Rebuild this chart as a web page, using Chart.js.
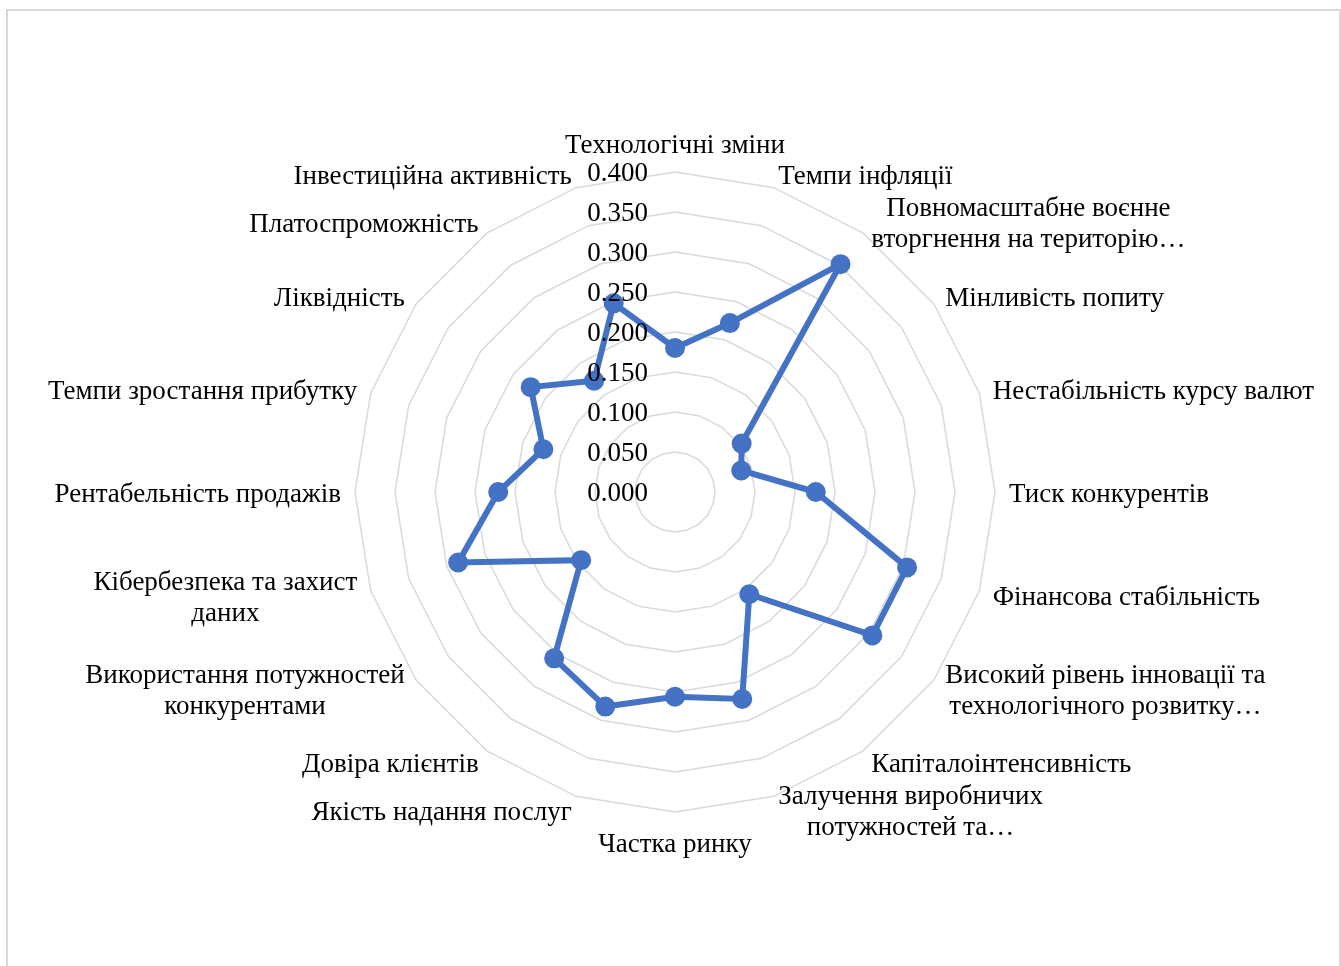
<!DOCTYPE html>
<html>
<head>
<meta charset="utf-8">
<style>
  html, body { margin: 0; padding: 0; background: #ffffff; }
  #wrap { width: 1341px; height: 966px; position: relative; }
  canvas { display: block; }
</style>
<script src="https://cdn.jsdelivr.net/npm/chart.js@4/dist/chart.umd.min.js"></script>
</head>
<body>
<div id="wrap"><canvas id="radar" width="1341" height="966"></canvas></div>
<script>
// Risk / performance factors, clockwise from the top
const categories = [
  'Технологічні зміни',
  'Темпи інфляції',
  ['Повномасштабне воєнне', 'вторгнення на територію…'],
  'Мінливість попиту',
  'Нестабільність курсу валют',
  'Тиск конкурентів',
  'Фінансова стабільність',
  ['Високий рівень інновації та', 'технологічного розвитку…'],
  'Капіталоінтенсивність',
  ['Залучення виробничих', 'потужностей та…'],
  'Частка ринку',
  'Якість надання послуг',
  'Довіра клієнтів',
  ['Використання потужностей', 'конкурентами'],
  ['Кібербезпека та захист', 'даних'],
  'Рентабельність продажів',
  'Темпи зростання прибутку',
  'Ліквідність',
  'Платоспроможність',
  'Інвестиційна активність'
];

// Weight of each factor
const weights = [
  0.180, 0.222, 0.352, 0.103, 0.087, 0.176, 0.305, 0.305, 0.158, 0.272,
  0.256, 0.282, 0.257, 0.145, 0.285, 0.221, 0.173, 0.223, 0.172, 0.248
];

// Radial axis ticks
const tickValues = [0, 0.05, 0.10, 0.15, 0.20, 0.25, 0.30, 0.35, 0.40];
const tickLabels = ['0.000', '0.050', '0.100', '0.150', '0.200', '0.250', '0.300', '0.350', '0.400'];

const FONT = '"Liberation Serif", "Times New Roman", serif';
const FONT_SIZE = 27;
const LINE_H = 31;
const TEXT_COLOR = '#000000';
const GRID_COLOR = '#d9d9d9';
const SERIES_COLOR = '#4472c4';

// Light frame around the whole chart
const framePlugin = {
  id: 'frame',
  beforeDraw(chart) {
    const ctx = chart.ctx;
    ctx.save();
    ctx.strokeStyle = GRID_COLOR;
    ctx.lineWidth = 2;
    ctx.strokeRect(7, 10, 1333, 1000);
    ctx.restore();
  }
};

// Value labels to the left of the vertical axis
const tickLabelPlugin = {
  id: 'tickLabels',
  afterDatasetsDraw(chart) {
    const scale = chart.scales.r;
    const ctx = chart.ctx;
    ctx.save();
    ctx.font = FONT_SIZE + 'px ' + FONT;
    ctx.fillStyle = TEXT_COLOR;
    ctx.textAlign = 'right';
    ctx.textBaseline = 'middle';
    tickValues.forEach((v, i) => {
      const y = scale.yCenter - scale.getDistanceFromCenterForValue(v);
      ctx.fillText(tickLabels[i], scale.xCenter - 27, y + 2);
    });
    ctx.restore();
  }
};

// Category labels around the outer ring
const categoryLabelPlugin = {
  id: 'categoryLabels',
  afterDraw(chart) {
    const scale = chart.scales.r;
    const ctx = chart.ctx;
    const n = categories.length;
    ctx.save();
    ctx.font = FONT_SIZE + 'px ' + FONT;
    ctx.fillStyle = TEXT_COLOR;
    ctx.textBaseline = 'middle';
    categories.forEach((label, i) => {
      const lines = Array.isArray(label) ? label : [label];
      const pos = scale.getPointPosition(i, scale.drawingArea + 14);
      const deg = Math.round(i * 360 / n);
      const widths = lines.map(l => ctx.measureText(l).width);
      const w = Math.max(...widths);
      const h = lines.length * LINE_H;
      let top;
      if (deg === 0) top = pos.y - h;
      else if (deg === 180) top = pos.y;
      else top = pos.y - h / 2;
      let blockCenter;
      if (deg === 0 || deg === 180) blockCenter = pos.x;
      else if (deg < 180) blockCenter = pos.x + w / 2;
      else blockCenter = pos.x - w / 2;
      ctx.textAlign = 'center';
      lines.forEach((l, k) => {
        ctx.fillText(l, blockCenter, top + LINE_H * (k + 0.5) + 3);
      });
    });
    ctx.restore();
  }
};

new Chart(document.getElementById('radar'), {
  type: 'radar',
  data: {
    labels: categories,
    datasets: [{
      data: weights,
      borderColor: SERIES_COLOR,
      backgroundColor: SERIES_COLOR,
      borderWidth: 6,
      fill: false,
      pointRadius: 9,
      pointBorderWidth: 2,
      pointBackgroundColor: SERIES_COLOR,
      pointBorderColor: SERIES_COLOR,
      pointHoverRadius: 9
    }]
  },
  options: {
    responsive: false,
    animation: false,
    devicePixelRatio: 1,
    layout: { padding: { left: 355, right: 346, top: 172, bottom: 154 } },
    plugins: {
      legend: { display: false },
      tooltip: { enabled: false }
    },
    elements: { line: { tension: 0 } },
    scales: {
      r: {
        min: 0,
        max: 0.4,
        beginAtZero: true,
        angleLines: { display: false },
        grid: { circular: false, color: GRID_COLOR, lineWidth: 1.5 },
        ticks: { display: false, stepSize: 0.05 },
        pointLabels: { display: false }
      }
    }
  },
  plugins: [framePlugin, tickLabelPlugin, categoryLabelPlugin]
});
</script>
</body>
</html>
